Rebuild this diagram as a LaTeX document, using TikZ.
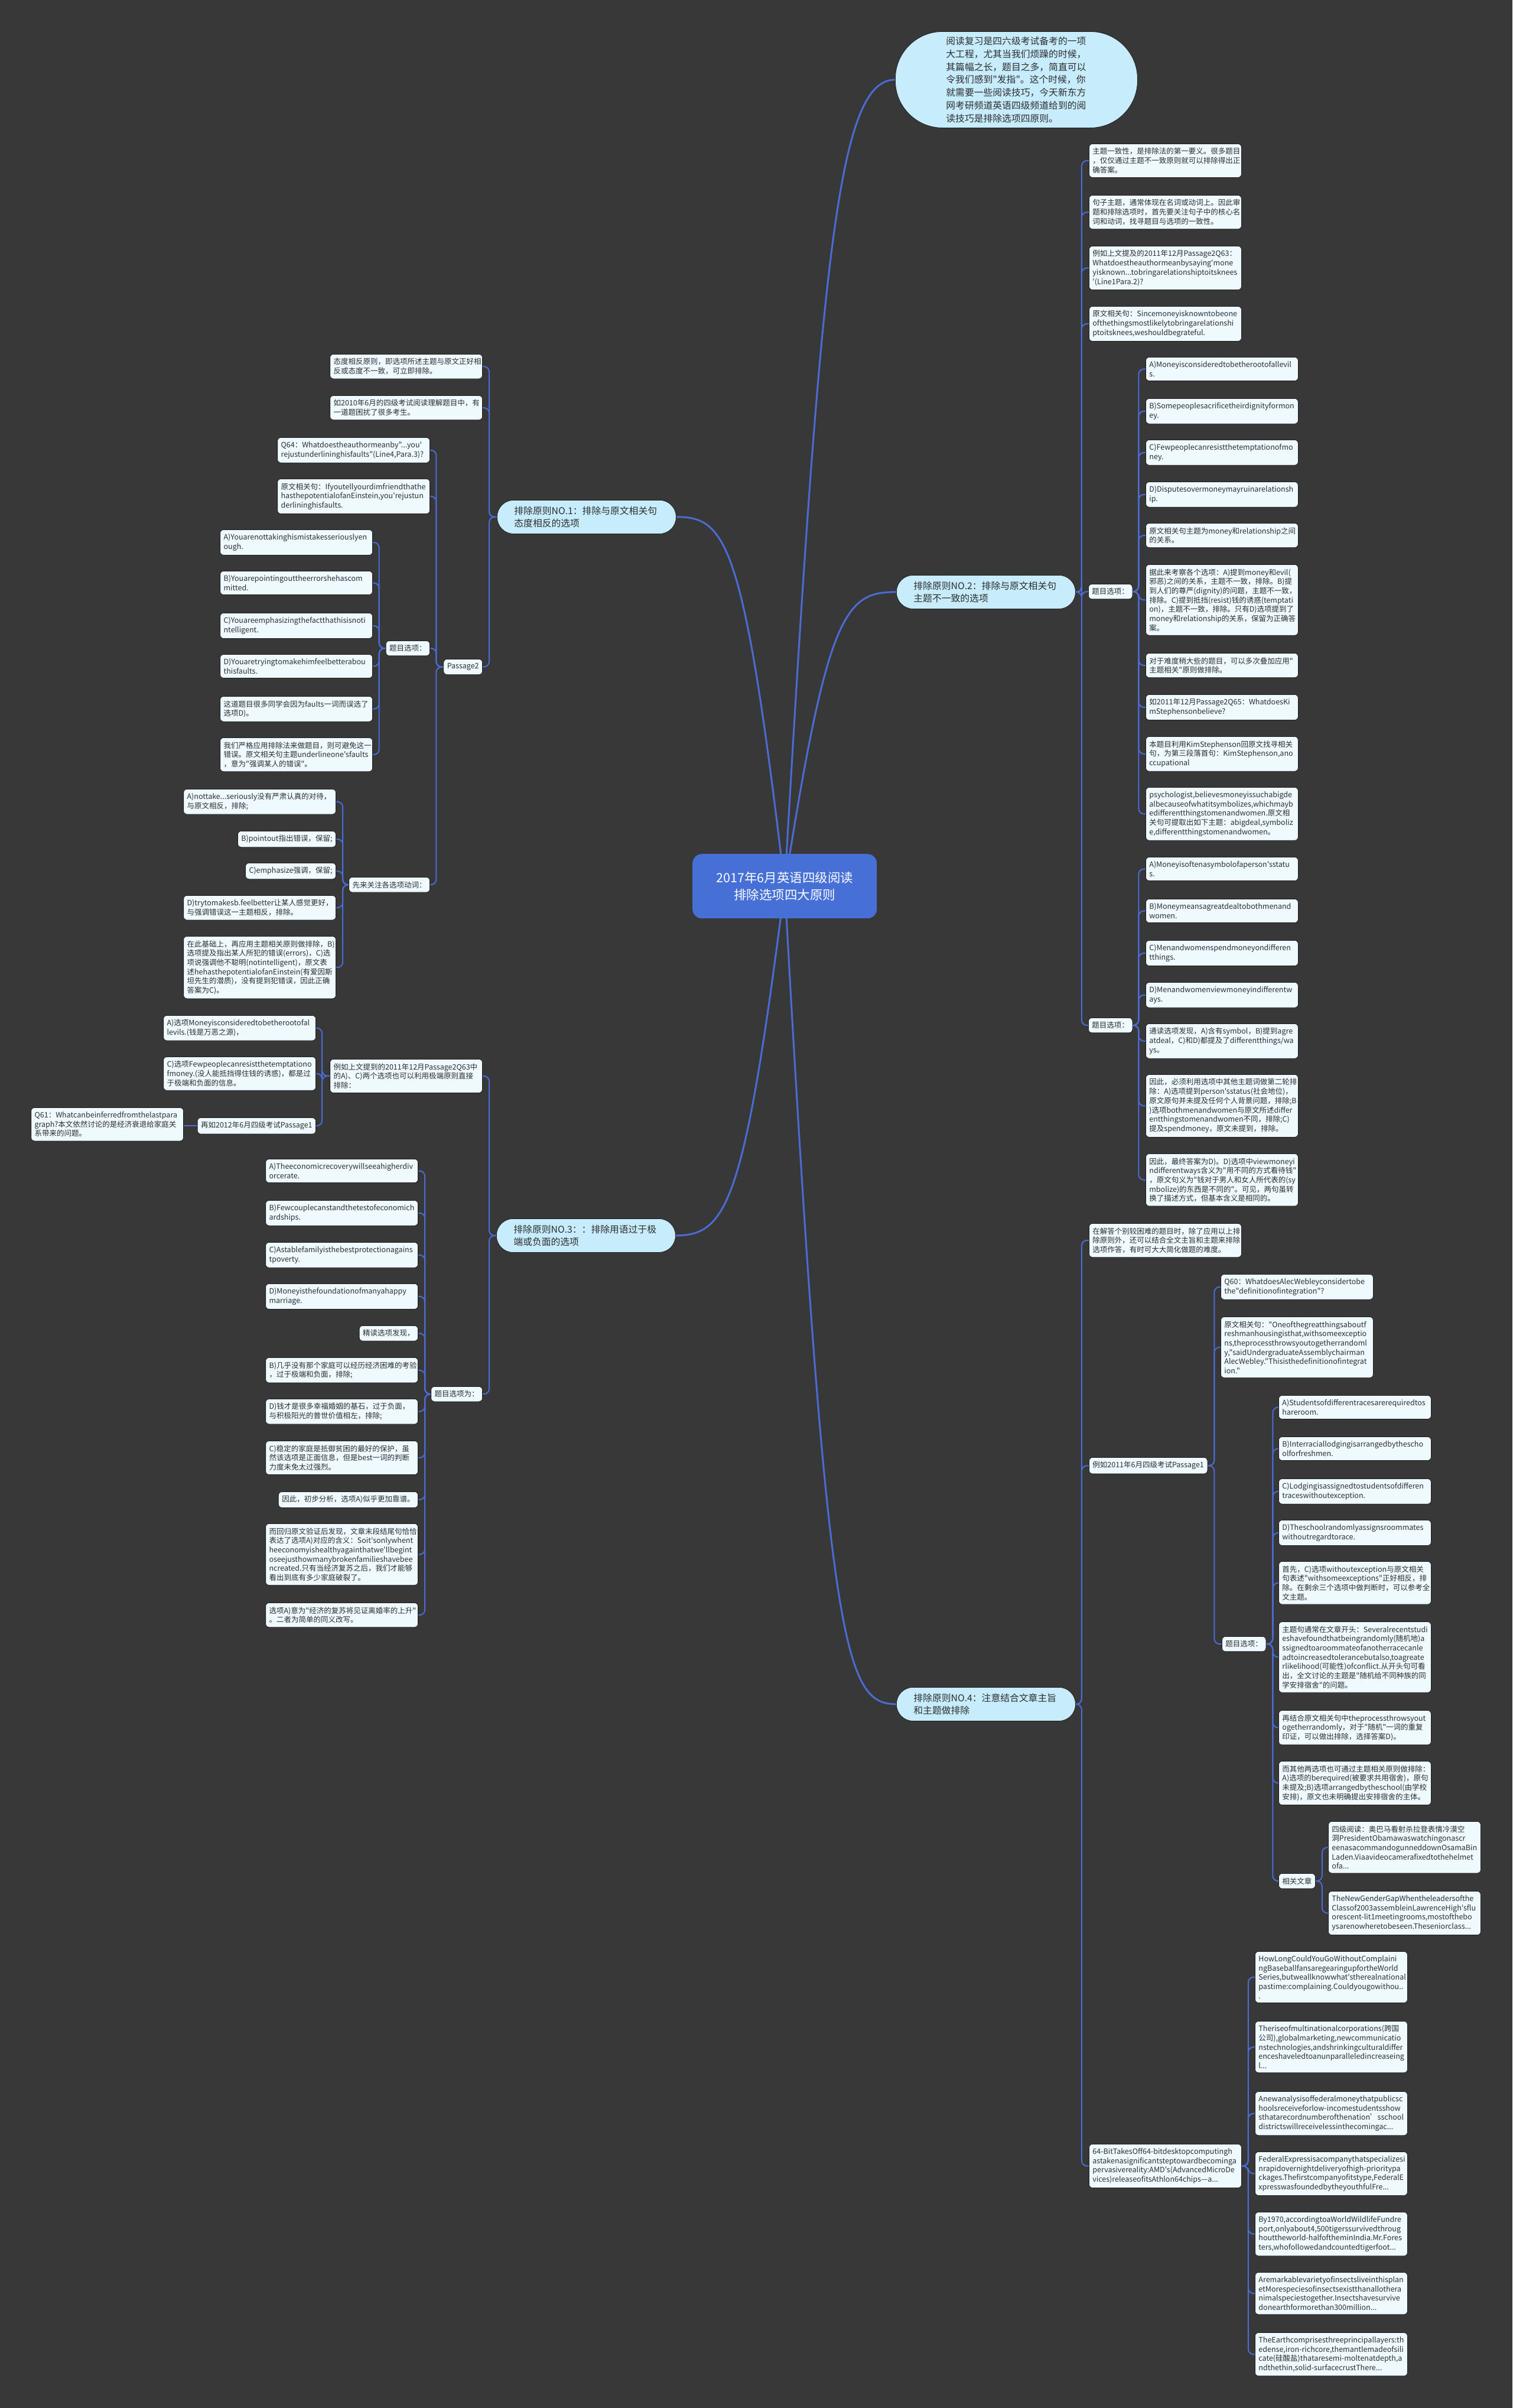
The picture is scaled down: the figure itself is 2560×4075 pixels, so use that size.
\documentclass[tikz,border=0pt]{standalone}
\usepackage{fontspec}
\newfontfamily\cjk{Noto Sans CJK SC}
\usepackage{tikz}
\pgfdeclarelayer{links}
\pgfsetlayers{links,main}
\definecolor{bgc}{RGB}{56,56,56}
\definecolor{linkc}{RGB}{74,108,212}
\definecolor{leaffill}{RGB}{238,250,255}
\definecolor{leafline}{RGB}{30,30,30}
\definecolor{leaftext}{RGB}{45,45,45}
\definecolor{branchfill}{RGB}{199,236,252}
\definecolor{rootfill}{RGB}{70,112,214}
\exhyphenpenalty=10000
\hyphenpenalty=10000

\begin{document}
\begin{tikzpicture}[x=1pt,y=-1pt,
  leaf/.style={draw=leafline,line width=0.8pt,fill=leaffill,rounded corners=6pt,align=left,text=leaftext,font=\fontsize{12.5}{15.7}\selectfont\cjk,inner xsep=6pt,inner ysep=7pt},
  leafw/.style={leaf,text width=246pt},
  rulebox/.style={draw=leafline,line width=0.8pt,fill=branchfill,rounded corners=28pt,align=left,text=leaftext,font=\fontsize{15.8}{21}\selectfont\cjk,text width=245pt,inner xsep=29pt,inner ysep=10pt,minimum height=57pt},
  introbox/.style={draw=leafline,line width=0.8pt,fill=branchfill,rounded corners=80pt,align=left,text=leaftext,font=\fontsize{15.8}{21.7}\selectfont\cjk,text width=238pt,minimum width=410pt,minimum height=163pt,inner sep=2pt},
  rootbox/.style={fill=rootfill,rounded corners=16pt,align=center,text=white,font=\fontsize{21.5}{28.6}\selectfont\cjk,minimum width=312pt,minimum height=109pt},
  twig/.style={draw=linkc,line width=2pt,rounded corners=9pt},
  bough/.style={draw=linkc,line width=3pt}]
\useasboundingbox (0,0) rectangle (2560,4075);

\node[rootbox,anchor=north west] (ctr) at (1172,1445) {2017年6月英语四级阅读\\排除选项四大原则};
\node[introbox,anchor=north west] (intro) at (1515,53) {阅读复习是四六级考试备考的一项\\大工程，尤其当我们烦躁的时候，\\其篇幅之长，题目之多，简直可以\\令我们感到"发指"。这个时候，你\\就需要一些阅读技巧，今天新东方\\网考研频道英语四级频道给到的阅\\读技巧是排除选项四原则。};
\node[rulebox,anchor=north west] (rule1) at (841,846) {排除原则NO.1：排除与原文相关句\\态度相反的选项};
\node[rulebox,anchor=north west] (rule2) at (1517,973) {排除原则NO.2：排除与原文相关句\\主题不一致的选项};
\node[rulebox,anchor=north west] (rule3) at (840,2062) {排除原则NO.3：：排除用语过于极\\端或负面的选项};
\node[rulebox,anchor=north west] (rule4) at (1517,2855) {排除原则NO.4：注意结合文章主旨\\和主题做排除};

\node[leafw,anchor=north west] (r2lead) at (1843,243) {主题一致性，是排除法的第一要义。很多题目\\，仅仅通过主题不一致原则就可以排除得出正\\确答案。};
\node[leafw,anchor=north west] (r2noun) at (1843,330) {句子主题，通常体现在名词或动词上。因此审\\题和排除选项时，首先要关注句子中的核心名\\词和动词，找寻题目与选项的一致性。};
\node[leafw,anchor=north west] (r2q63) at (1843,416) {例如上文提及的2011年12月Passage2Q63：\\Whatdoestheauthormeanbysaying'mone\\yisknown...tobringarelationshiptoitsknees\\'(Line1Para.2)?};
\node[leafw,anchor=north west] (r2src) at (1843,518) {原文相关句：Sincemoneyisknowntobeone\\ofthethingsmostlikelytobringarelationshi\\ptoitsknees,weshouldbegrateful.};
\node[leaf,anchor=north west] (r2opt) at (1842,988) {题目选项：};
\node[leafw,anchor=north west] (r2a) at (1939,604) {A)Moneyisconsideredtobetherootofallevil\\s.};
\node[leafw,anchor=north west] (r2b) at (1939,674) {B)Somepeoplesacrificetheirdignityformon\\ey.};
\node[leafw,anchor=north west] (r2c) at (1939,744) {C)Fewpeoplecanresistthetemptationofmo\\ney.};
\node[leafw,anchor=north west] (r2d) at (1939,815) {D)Disputesovermoneymayruinarelationsh\\ip.};
\node[leafw,anchor=north west] (r2topic) at (1939,885) {原文相关句主题为money和relationship之间\\的关系。};
\node[leafw,anchor=north west] (r2check) at (1939,955) {据此来考察各个选项：A)提到money和evil(\\邪恶)之间的关系，主题不一致，排除。B)提\\到人们的尊严(dignity)的问题，主题不一致，\\排除。C)提到抵挡(resist)钱的诱惑(temptati\\on)，主题不一致，排除。只有D)选项提到了\\money和relationship的关系，保留为正确答\\案。};
\node[leafw,anchor=north west] (r2hard) at (1939,1105) {对于难度稍大些的题目，可以多次叠加应用"\\主题相关"原则做排除。};
\node[leafw,anchor=north west] (r2q65) at (1939,1175) {如2011年12月Passage2Q65：WhatdoesKi\\mStephensonbelieve?};
\node[leafw,anchor=north west] (r2kim) at (1939,1246) {本题目利用KimStephenson回原文找寻相关\\句，为第三段落首句：KimStephenson,ano\\ccupational};
\node[leafw,anchor=north west] (r2psy) at (1939,1332) {psychologist,believesmoneyissuchabigde\\albecauseofwhatitsymbolizes,whichmayb\\edifferentthingstomenandwomen.原文相\\关句可提取出如下主题：abigdeal,symboliz\\e,differentthingstomenandwomen。};
\node[leaf,anchor=north west] (r2opt2) at (1842,1722) {题目选项：};
\node[leafw,anchor=north west] (r2e) at (1939,1450) {A)Moneyisoftenasymbolofaperson'sstatu\\s.};
\node[leafw,anchor=north west] (r2f) at (1939,1521) {B)Moneymeansagreatdealtobothmenand\\women.};
\node[leafw,anchor=north west] (r2g) at (1939,1591) {C)Menandwomenspendmoneyondifferen\\tthings.};
\node[leafw,anchor=north west] (r2h) at (1939,1662) {D)Menandwomenviewmoneyindifferentw\\ays.};
\node[leafw,anchor=north west] (r2scan) at (1939,1732) {通读选项发现，A)含有symbol，B)提到agre\\atdeal，C)和D)都提及了differentthings/wa\\ys。};
\node[leafw,anchor=north west] (r2second) at (1939,1818) {因此，必须利用选项中其他主题词做第二轮排\\除：A)选项提到person'sstatus(社会地位)，\\原文原句并未提及任何个人背景问题，排除;B\\)选项bothmenandwomen与原文所述differ\\entthingstomenandwomen不同，排除;C)\\提及spendmoney，原文未提到，排除。};
\node[leafw,anchor=north west] (r2final) at (1939,1952) {因此，最终答案为D)。D)选项中viewmoneyi\\ndifferentways含义为"用不同的方式看待钱"\\，原文句义为"钱对于男人和女人所代表的(sy\\mbolize)的东西是不同的"。可见，两句虽转\\换了描述方式，但基本含义是相同的。};

\node[leafw,anchor=north west] (r4lead) at (1843,2070) {在解答个别较困难的题目时，除了应用以上排\\除原则外，还可以结合全文主旨和主题来排除\\选项作答，有时可大大简化做题的难度。};
\node[leaf,anchor=north west] (r4p1) at (1843,2466) {例如2011年6月四级考试Passage1};
\node[leafw,anchor=north west] (r4q60) at (2066,2156) {Q60：WhatdoesAlecWebleyconsidertobe\\the"definitionofintegration"?};
\node[leafw,anchor=north west] (r4src) at (2066,2228) {原文相关句："Oneofthegreatthingsaboutf\\reshmanhousingisthat,withsomeexceptio\\ns,theprocessthrowsyoutogetherrandoml\\y,"saidUndergraduateAssemblychairman\\AlecWebley."Thisisthedefinitionofintegrat\\ion."};
\node[leaf,anchor=north west] (r4opt) at (2068,2769) {题目选项：};
\node[leafw,anchor=north west] (r4a) at (2164,2361) {A)Studentsofdifferentracesarerequiredtos\\hareroom.};
\node[leafw,anchor=north west] (r4b) at (2164,2431) {B)Interraciallodgingisarrangedbythescho\\olforfreshmen.};
\node[leafw,anchor=north west] (r4c) at (2164,2502) {C)Lodgingisassignedtostudentsofdifferen\\traceswithoutexception.};
\node[leafw,anchor=north west] (r4d) at (2164,2572) {D)Theschoolrandomlyassignsroommates\\withoutregardtorace.};
\node[leafw,anchor=north west] (r4first) at (2164,2642) {首先，C)选项withoutexception与原文相关\\句表述"withsomeexceptions"正好相反，排\\除。在剩余三个选项中做判断时，可以参考全\\文主题。};
\node[leafw,anchor=north west] (r4theme) at (2164,2744) {主题句通常在文章开头：Severalrecentstudi\\eshavefoundthatbeingrandomly(随机地)a\\ssignedtoaroommateofanotherracecanle\\adtoincreasedtolerancebutalso,toagreate\\rlikelihood(可能性)ofconflict.从开头句可看\\出，全文讨论的主题是"随机给不同种族的同\\学安排宿舍"的问题。};
\node[leafw,anchor=north west] (r4again) at (2164,2894) {再结合原文相关句中theprocessthrowsyout\\ogetherrandomly，对于"随机"一词的重复\\印证，可以做出排除，选择答案D)。};
\node[leafw,anchor=north west] (r4other) at (2164,2980) {而其他两选项也可通过主题相关原则做排除：\\A)选项的berequired(被要求共用宿舍)，原句\\未提及;B)选项arrangedbytheschool(由学校\\安排)，原文也未明确提出安排宿舍的主体。};
\node[leaf,anchor=north west] (r4more) at (2164,3170) {相关文章};
\node[leafw,anchor=north west] (r4obama) at (2248,3082) {四级阅读：奥巴马看射杀拉登表情冷漠空\\洞PresidentObamawaswatchingonascr\\eenasacommandogunneddownOsamaBin\\Laden.Viaavideocamerafixedtothehelmet\\ofa...};
\node[leafw,anchor=north west] (r4gender) at (2248,3200) {TheNewGenderGapWhentheleadersofthe\\Classof2003assembleinLawrenceHigh'sflu\\orescent-lit1meetingrooms,mostofthebo\\ysarenowheretobeseen.Theseniorclass...};
\node[leafw,anchor=north west] (r4bit) at (1843,3628) {64-BitTakesOff64-bitdesktopcomputingh\\astakenasignificantsteptowardbecominga\\pervasivereality:AMD's(AdvancedMicroDe\\vices)releaseofitsAthlon64chips—a...};
\node[leafw,anchor=north west] (r4how) at (2124,3302) {HowLongCouldYouGoWithoutComplaini\\ngBaseballfansaregearingupfortheWorld\\Series,butweallknowwhat'stherealnational\\pastime:complaining.Couldyougowithou..\\.};
\node[leafw,anchor=north west] (r4rise) at (2124,3420) {Theriseofmultinationalcorporations(跨国\\公司),globalmarketing,newcommunicatio\\nstechnologies,andshrinkingculturaldiffer\\enceshaveledtoanunparalleledincreaseing\\l...};
\node[leafw,anchor=north west] (r4fed) at (2124,3539) {Anewanalysisoffederalmoneythatpublicsc\\hoolsreceiveforlow-incomestudentsshow\\sthatarecordnumberofthenation’sschool\\districtswillreceivelessinthecomingac...};
\node[leafw,anchor=north west] (r4fedex) at (2124,3641) {FederalExpressisacompanythatspecializesi\\nrapidovernightdeliveryofhigh-prioritypa\\ckages.Thefirstcompanyofitstype,FederalE\\xpresswasfoundedbytheyouthfulFre...};
\node[leafw,anchor=north west] (r4tiger) at (2124,3743) {By1970,accordingtoaWorldWildlifeFundre\\port,onlyabout4,500tigerssurvivedthroug\\houttheworld-halfoftheminIndia.Mr.Fores\\ters,whofollowedandcountedtigerfoot...};
\node[leafw,anchor=north west] (r4insect) at (2124,3845) {Aremarkablevarietyofinsectsliveinthisplan\\etMorespeciesofinsectsexistthanallothera\\nimalspeciestogether.Insectshavesurvive\\donearthformorethan300million...};
\node[leafw,anchor=north west] (r4earth) at (2124,3947) {TheEarthcomprisesthreeprincipallayers:th\\edense,iron-richcore,themantlemadeofsili\\cate(硅酸盐)thataresemi-moltenatdepth,a\\ndthethin,solid-surfacecrustThere...};

\node[leafw,anchor=north east] (r1lead) at (817,599) {态度相反原则，即选项所述主题与原文正好相\\反或态度不一致，可立即排除。};
\node[leafw,anchor=north east] (r1eg) at (817,669) {如2010年6月的四级考试阅读理解题目中，有\\一道题困扰了很多考生。};
\node[leaf,anchor=north east] (r1p2) at (817,1115) {Passage2};
\node[leafw,anchor=north east] (r1q64) at (728,740) {Q64：Whatdoestheauthormeanby"...you'\\rejustunderlininghisfaults"(Line4,Para.3)?};
\node[leafw,anchor=north east] (r1src) at (728,810) {原文相关句：Ifyoutellyourdimfriendthathe\\hasthepotentialofanEinstein,you'rejustun\\derlininghisfaults.};
\node[leaf,anchor=north east] (r1opt) at (728,1084) {题目选项：};
\node[leafw,anchor=north east] (r1a) at (631,896) {A)Youarenottakinghismistakesseriouslyen\\ough.};
\node[leafw,anchor=north east] (r1b) at (631,966) {B)Youarepointingouttheerrorshehascom\\mitted.};
\node[leafw,anchor=north east] (r1c) at (631,1037) {C)Youareemphasizingthefactthathisisnoti\\ntelligent.};
\node[leafw,anchor=north east] (r1d) at (631,1107) {D)Youaretryingtomakehimfeelbetterabou\\thisfaults.};
\node[leafw,anchor=north east] (r1trap) at (631,1178) {这道题目很多同学会因为faults一词而误选了\\选项D)。};
\node[leafw,anchor=north east] (r1strict) at (631,1248) {我们严格应用排除法来做题目，则可避免这一\\错误。原文相关句主题underlineone'sfaults\\，意为"强调某人的错误"。};
\node[leaf,anchor=north east] (r1verb) at (728,1484) {先来关注各选项动词：};
\node[leafw,anchor=north east] (r1va) at (569,1335) {A)nottake...seriously没有严肃认真的对待，\\与原文相反，排除;};
\node[leaf,anchor=north east] (r1vb) at (569,1406) {B)pointout指出错误，保留;};
\node[leaf,anchor=north east] (r1vc) at (569,1460) {C)emphasize强调，保留;};
\node[leafw,anchor=north east] (r1vd) at (569,1515) {D)trytomakesb.feelbetter让某人感觉更好，\\与强调错误这一主题相反，排除。};
\node[leafw,anchor=north east] (r1base) at (569,1584) {在此基础上，再应用主题相关原则做排除，B)\\选项提及指出某人所犯的错误(errors)，C)选\\项说强调他不聪明(notintelligent)，原文表\\述hehasthepotentialofanEinstein(有爱因斯\\坦先生的潜质)，没有提到犯错误，因此正确\\答案为C)。};

\node[leafw,anchor=north east] (r3eg) at (817,1792) {例如上文提到的2011年12月Passage2Q63中\\的A)、C)两个选项也可以利用极端原则直接\\排除：};
\node[leafw,anchor=north east] (r3a) at (535,1718) {A)选项Moneyisconsideredtobetherootofal\\levils.(钱是万恶之源)，};
\node[leafw,anchor=north east] (r3c) at (535,1788) {C)选项Fewpeoplecanresistthetemptationo\\fmoney.(没人能抵挡得住钱的诱惑)，都是过\\于极端和负面的信息。};
\node[leaf,anchor=north east] (r3p1) at (535,1891) {再如2012年6月四级考试Passage1};
\node[leafw,anchor=north east] (r3q61) at (311,1874) {Q61：Whatcanbeinferredfromthelastpara\\graph?本文依然讨论的是经济衰退给家庭关\\系带来的问题。};
\node[leaf,anchor=north east] (r3opt) at (817,2346) {题目选项为：};
\node[leafw,anchor=north east] (r3oa) at (708,1961) {A)Theeconomicrecoverywillseeahigherdiv\\orcerate.};
\node[leafw,anchor=north east] (r3ob) at (708,2031) {B)Fewcouplecanstandthetestofeconomich\\ardships.};
\node[leafw,anchor=north east] (r3oc) at (708,2102) {C)Astablefamilyisthebestprotectionagains\\tpoverty.};
\node[leafw,anchor=north east] (r3od) at (708,2172) {D)Moneyisthefoundationofmanyahappy\\marriage.};
\node[leaf,anchor=north east] (r3read) at (708,2243) {精读选项发现，};
\node[leafw,anchor=north east] (r3xb) at (708,2297) {B)几乎没有那个家庭可以经历经济困难的考验\\，过于极端和负面，排除;};
\node[leafw,anchor=north east] (r3xd) at (708,2367) {D)钱才是很多幸福婚姻的基石，过于负面，\\与积极阳光的普世价值相左，排除;};
\node[leafw,anchor=north east] (r3xc) at (708,2438) {C)稳定的家庭是抵御贫困的最好的保护，虽\\然该选项是正面信息，但是best一词的判断\\力度未免太过强烈。};
\node[leaf,anchor=north east] (r3so) at (708,2524) {因此，初步分析，选项A)似乎更加靠谱。};
\node[leafw,anchor=north east] (r3back) at (708,2578) {而回归原文验证后发现，文章末段结尾句恰恰\\表达了选项A)对应的含义：Soit'sonlywhent\\heeconomyishealthyagainthatwe'llbegint\\oseejusthowmanybrokenfamilieshavebee\\ncreated.只有当经济复苏之后，我们才能够\\看出到底有多少家庭破裂了。};
\node[leafw,anchor=north east] (r3mean) at (708,2712) {选项A)意为"经济的复苏将见证离婚率的上升"\\。二者为简单的同义改写。};

\begin{pgfonlayer}{links}
\fill[bgc] (0,0) rectangle (2560,4075);
\draw[bough] (ctr.center) .. controls (1390,420) and (1420,135) .. (intro.west);
\draw[bough] (ctr.center) .. controls (1400,1040) and (1430,1001) .. (rule2.west);
\draw[bough] (ctr.center) .. controls (1260,920) and (1230,874) .. (rule1.east);
\draw[bough] (ctr.center) .. controls (1260,2040) and (1230,2090) .. (rule3.east);
\draw[bough] (ctr.center) .. controls (1400,2800) and (1430,2883) .. (rule4.west);

\draw[twig] (rule2.east) -- ++(10,0) |- (r2lead.west);
\draw[twig] (rule2.east) -- ++(10,0) |- (r2noun.west);
\draw[twig] (rule2.east) -- ++(10,0) |- (r2q63.west);
\draw[twig] (rule2.east) -- ++(10,0) |- (r2src.west);
\draw[twig] (rule2.east) -- ++(10,0) |- (r2opt.west);
\draw[twig] (rule2.east) -- ++(10,0) |- (r2opt2.west);
\draw[twig] (r2opt.east) -- ++(10,0) |- (r2a.west);
\draw[twig] (r2opt.east) -- ++(10,0) |- (r2b.west);
\draw[twig] (r2opt.east) -- ++(10,0) |- (r2c.west);
\draw[twig] (r2opt.east) -- ++(10,0) |- (r2d.west);
\draw[twig] (r2opt.east) -- ++(10,0) |- (r2topic.west);
\draw[twig] (r2opt.east) -- ++(10,0) |- (r2check.west);
\draw[twig] (r2opt.east) -- ++(10,0) |- (r2hard.west);
\draw[twig] (r2opt.east) -- ++(10,0) |- (r2q65.west);
\draw[twig] (r2opt.east) -- ++(10,0) |- (r2kim.west);
\draw[twig] (r2opt.east) -- ++(10,0) |- (r2psy.west);
\draw[twig] (r2opt2.east) -- ++(10,0) |- (r2e.west);
\draw[twig] (r2opt2.east) -- ++(10,0) |- (r2f.west);
\draw[twig] (r2opt2.east) -- ++(10,0) |- (r2g.west);
\draw[twig] (r2opt2.east) -- ++(10,0) |- (r2h.west);
\draw[twig] (r2opt2.east) -- ++(10,0) |- (r2scan.west);
\draw[twig] (r2opt2.east) -- ++(10,0) |- (r2second.west);
\draw[twig] (r2opt2.east) -- ++(10,0) |- (r2final.west);

\draw[twig] (rule4.east) -- ++(10,0) |- (r4lead.west);
\draw[twig] (rule4.east) -- ++(10,0) |- (r4p1.west);
\draw[twig] (rule4.east) -- ++(10,0) |- (r4bit.west);
\draw[twig] (r4p1.east) -- ++(11,0) |- (r4q60.west);
\draw[twig] (r4p1.east) -- ++(11,0) |- (r4src.west);
\draw[twig] (r4p1.east) -- ++(11,0) |- (r4opt.west);
\draw[twig] (r4opt.east) -- ++(11,0) |- (r4a.west);
\draw[twig] (r4opt.east) -- ++(11,0) |- (r4b.west);
\draw[twig] (r4opt.east) -- ++(11,0) |- (r4c.west);
\draw[twig] (r4opt.east) -- ++(11,0) |- (r4d.west);
\draw[twig] (r4opt.east) -- ++(11,0) |- (r4first.west);
\draw[twig] (r4opt.east) -- ++(11,0) |- (r4theme.west);
\draw[twig] (r4opt.east) -- ++(11,0) |- (r4again.west);
\draw[twig] (r4opt.east) -- ++(11,0) |- (r4other.west);
\draw[twig] (r4opt.east) -- ++(11,0) |- (r4more.west);
\draw[twig] (r4more.east) -- ++(11,0) |- (r4obama.west);
\draw[twig] (r4more.east) -- ++(11,0) |- (r4gender.west);
\draw[twig] (r4bit.east) -- ++(11,0) |- (r4how.west);
\draw[twig] (r4bit.east) -- ++(11,0) |- (r4rise.west);
\draw[twig] (r4bit.east) -- ++(11,0) |- (r4fed.west);
\draw[twig] (r4bit.east) -- ++(11,0) |- (r4fedex.west);
\draw[twig] (r4bit.east) -- ++(11,0) |- (r4tiger.west);
\draw[twig] (r4bit.east) -- ++(11,0) |- (r4insect.west);
\draw[twig] (r4bit.east) -- ++(11,0) |- (r4earth.west);

\draw[twig] (rule1.west) -- ++(-13,0) |- (r1lead.east);
\draw[twig] (rule1.west) -- ++(-13,0) |- (r1eg.east);
\draw[twig] (rule1.west) -- ++(-13,0) |- (r1p2.east);
\draw[twig] (r1p2.west) -- ++(-12,0) |- (r1q64.east);
\draw[twig] (r1p2.west) -- ++(-12,0) |- (r1src.east);
\draw[twig] (r1p2.west) -- ++(-12,0) |- (r1opt.east);
\draw[twig] (r1p2.west) -- ++(-12,0) |- (r1verb.east);
\draw[twig] (r1opt.west) -- ++(-11,0) |- (r1a.east);
\draw[twig] (r1opt.west) -- ++(-11,0) |- (r1b.east);
\draw[twig] (r1opt.west) -- ++(-11,0) |- (r1c.east);
\draw[twig] (r1opt.west) -- ++(-11,0) |- (r1d.east);
\draw[twig] (r1opt.west) -- ++(-11,0) |- (r1trap.east);
\draw[twig] (r1opt.west) -- ++(-11,0) |- (r1strict.east);
\draw[twig] (r1verb.west) -- ++(-10,0) |- (r1va.east);
\draw[twig] (r1verb.west) -- ++(-10,0) |- (r1vb.east);
\draw[twig] (r1verb.west) -- ++(-10,0) |- (r1vc.east);
\draw[twig] (r1verb.west) -- ++(-10,0) |- (r1vd.east);
\draw[twig] (r1verb.west) -- ++(-10,0) |- (r1base.east);

\draw[twig] (rule3.west) -- ++(-12,0) |- (r3eg.east);
\draw[twig] (rule3.west) -- ++(-12,0) |- (r3opt.east);
\draw[twig] (r3eg.west) -- ++(-13,0) |- (r3a.east);
\draw[twig] (r3eg.west) -- ++(-13,0) |- (r3c.east);
\draw[twig] (r3eg.west) -- ++(-13,0) |- (r3p1.east);
\draw[twig] (r3p1.west) -- (r3q61.east |- r3p1.west);
\draw[twig] (r3opt.west) -- ++(-10,0) |- (r3oa.east);
\draw[twig] (r3opt.west) -- ++(-10,0) |- (r3ob.east);
\draw[twig] (r3opt.west) -- ++(-10,0) |- (r3oc.east);
\draw[twig] (r3opt.west) -- ++(-10,0) |- (r3od.east);
\draw[twig] (r3opt.west) -- ++(-10,0) |- (r3read.east);
\draw[twig] (r3opt.west) -- ++(-10,0) |- (r3xb.east);
\draw[twig] (r3opt.west) -- ++(-10,0) |- (r3xd.east);
\draw[twig] (r3opt.west) -- ++(-10,0) |- (r3xc.east);
\draw[twig] (r3opt.west) -- ++(-10,0) |- (r3so.east);
\draw[twig] (r3opt.west) -- ++(-10,0) |- (r3back.east);
\draw[twig] (r3opt.west) -- ++(-10,0) |- (r3mean.east);
\end{pgfonlayer}
\end{tikzpicture}
\end{document}
